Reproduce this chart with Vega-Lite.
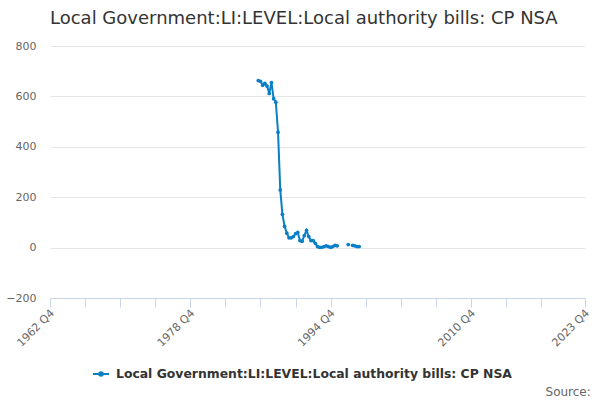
{
  "$schema": "https://vega.github.io/schema/vega-lite/v6.json",
  "padding": {"left": 5, "top": 10, "right": 10, "bottom": 2},
  "background": "white",
  "config": {
    "font": "DejaVu Sans",
    "view": {"stroke": null},
    "concat": {"spacing": 0}
  },
  "title": {
    "text": "Source:",
    "orient": "bottom",
    "anchor": "end",
    "fontSize": 12,
    "fontWeight": "normal",
    "color": "#666666",
    "offset": 6
  },
  "vconcat": [
    {
      "width": 535,
      "height": 252,
      "title": {
        "text": "Local Government:LI:LEVEL:Local authority bills: CP NSA",
        "anchor": "start",
        "frame": "group",
        "fontSize": 18,
        "fontWeight": "normal",
        "color": "#333333",
        "offset": 12
      },
      "data": {
        "values": [
          {"quarter": "1986-07-01", "value": 663},
          {"quarter": "1986-10-01", "value": 660},
          {"quarter": "1987-01-01", "value": 644},
          {"quarter": "1987-04-01", "value": 652},
          {"quarter": "1987-07-01", "value": 641},
          {"quarter": "1987-10-01", "value": 612},
          {"quarter": "1988-01-01", "value": 655},
          {"quarter": "1988-04-01", "value": 591},
          {"quarter": "1988-07-01", "value": 577},
          {"quarter": "1988-10-01", "value": 458},
          {"quarter": "1989-01-01", "value": 229},
          {"quarter": "1989-04-01", "value": 132},
          {"quarter": "1989-07-01", "value": 84},
          {"quarter": "1989-10-01", "value": 57},
          {"quarter": "1990-01-01", "value": 39},
          {"quarter": "1990-04-01", "value": 39},
          {"quarter": "1990-07-01", "value": 44},
          {"quarter": "1990-10-01", "value": 55},
          {"quarter": "1991-01-01", "value": 60},
          {"quarter": "1991-04-01", "value": 28},
          {"quarter": "1991-07-01", "value": 25},
          {"quarter": "1991-10-01", "value": 48},
          {"quarter": "1992-01-01", "value": 68},
          {"quarter": "1992-04-01", "value": 44},
          {"quarter": "1992-07-01", "value": 28},
          {"quarter": "1992-10-01", "value": 28},
          {"quarter": "1993-01-01", "value": 17},
          {"quarter": "1993-04-01", "value": 4},
          {"quarter": "1993-07-01", "value": 1},
          {"quarter": "1993-10-01", "value": 1},
          {"quarter": "1994-01-01", "value": 4},
          {"quarter": "1994-04-01", "value": 7},
          {"quarter": "1994-07-01", "value": 4},
          {"quarter": "1994-10-01", "value": 1},
          {"quarter": "1995-01-01", "value": 4},
          {"quarter": "1995-04-01", "value": 9},
          {"quarter": "1995-07-01", "value": 7},
          {"quarter": "1995-10-01", "value": null},
          {"quarter": "1996-01-01", "value": null},
          {"quarter": "1996-04-01", "value": null},
          {"quarter": "1996-07-01", "value": null},
          {"quarter": "1996-10-01", "value": 12},
          {"quarter": "1997-01-01", "value": null},
          {"quarter": "1997-04-01", "value": 9},
          {"quarter": "1997-07-01", "value": 7},
          {"quarter": "1997-10-01", "value": 4},
          {"quarter": "1998-01-01", "value": 4}
        ],
        "format": {"parse": {"quarter": "utc:'%Y-%m-%d'"}}
      },
      "encoding": {
        "x": {
          "field": "quarter",
          "type": "temporal",
          "title": null,
          "scale": {
            "type": "utc",
            "domain": [
              {"year": 1962, "month": 10, "date": 1, "utc": true},
              {"year": 2023, "month": 10, "date": 1, "utc": true}
            ]
          },
          "axis": {
            "values": [
              {"year": 1962, "month": 10, "date": 1, "utc": true},
              {"year": 1966, "month": 10, "date": 1, "utc": true},
              {"year": 1970, "month": 10, "date": 1, "utc": true},
              {"year": 1974, "month": 10, "date": 1, "utc": true},
              {"year": 1978, "month": 10, "date": 1, "utc": true},
              {"year": 1982, "month": 10, "date": 1, "utc": true},
              {"year": 1986, "month": 10, "date": 1, "utc": true},
              {"year": 1990, "month": 10, "date": 1, "utc": true},
              {"year": 1994, "month": 10, "date": 1, "utc": true},
              {"year": 1998, "month": 10, "date": 1, "utc": true},
              {"year": 2002, "month": 10, "date": 1, "utc": true},
              {"year": 2006, "month": 10, "date": 1, "utc": true},
              {"year": 2010, "month": 10, "date": 1, "utc": true},
              {"year": 2014, "month": 10, "date": 1, "utc": true},
              {"year": 2018, "month": 10, "date": 1, "utc": true},
              {"year": 2023, "month": 10, "date": 1, "utc": true}
            ],
            "labelExpr": "indexof([1962, 1978, 1994, 2010, 2023], utcyear(datum.value)) >= 0 ? utcFormat(datum.value, '%Y') + ' Q' + utcquarter(datum.value) : ''",
            "labelAngle": -45,
            "labelAlign": "right",
            "labelBaseline": "top",
            "labelColor": "#666666",
            "labelFontSize": 11,
            "labelPadding": 0,
            "labelOffset": -2,
            "labelOverlap": false,
            "labelBound": false,
            "labelFlush": false,
            "grid": false,
            "domainColor": "#ccd6eb",
            "tickColor": "#ccd6eb",
            "tickSize": 9
          }
        },
        "y": {
          "field": "value",
          "type": "quantitative",
          "title": null,
          "scale": {"domain": [-200, 800], "nice": false, "zero": false},
          "axis": {
            "values": [-200, 0, 200, 400, 600, 800],
            "domain": false,
            "ticks": false,
            "gridColor": "#e6e6e6",
            "labelColor": "#666666",
            "labelFontSize": 11,
            "labelPadding": 14
          }
        },
        "color": {
          "datum": "Local Government:LI:LEVEL:Local authority bills: CP NSA",
          "type": "nominal",
          "scale": {"range": ["#0a7fc6"]},
          "legend": {
            "orient": "none",
            "legendX": 42,
            "legendY": 319,
            "direction": "horizontal",
            "title": null,
            "labelFontSize": 12.4,
            "labelFontWeight": "bold",
            "labelColor": "#333333",
            "labelLimit": 600,
            "labelOffset": 6,
            "symbolType": "M-1,0H1M-0.22,0A0.22,0.22 0 1,0 0.22,0A0.22,0.22 0 1,0 -0.22,0",
            "symbolSize": 256,
            "symbolStrokeWidth": 2,
            "symbolFillColor": "#0a7fc6",
            "symbolStrokeColor": "#0a7fc6"
          }
        }
      },
      "layer": [
        {
          "mark": {"type": "line", "strokeWidth": 2, "invalid": "break-paths-filter-domains"}
        },
        {
          "mark": {"type": "point", "filled": true, "size": 14, "opacity": 1, "invalid": "filter"}
        }
      ]
    }
  ]
}
